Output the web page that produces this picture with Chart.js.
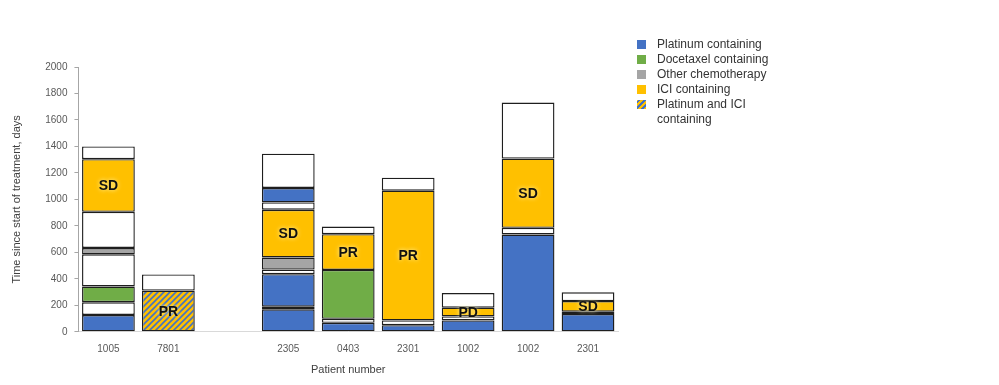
<!DOCTYPE html>
<html>
<head>
<meta charset="utf-8">
<script src="https://cdn.jsdelivr.net/npm/chart.js@4.4.1/dist/chart.umd.min.js"></script>
<style>
  body { margin: 0; background: #fff; }
  #wrap { position: relative; width: 999px; height: 385px; }
  #legend { position: absolute; left: 637px; top: 37px; font-family: "Liberation Sans", Arial, sans-serif; font-size: 12px; color: #333; }
  #legend div { position: relative; padding-left: 20px; line-height: 15px; width: 118px; }
  #legend span { position: absolute; left: 0; top: 3px; width: 9px; height: 9px; }
</style>
</head>
<body>
<div id="wrap">
  <canvas id="myChart" width="999" height="385"></canvas>
  <div id="legend"></div>
</div>
<script>
// patients on the x axis (third slot is empty in the original)
const patients = ['1005', '7801', '', '2305', '0403', '2301', '1002', '1002', '2301'];
// response shown on the ICI segment of each bar
const responses = ['SD', 'PR', '', 'SD', 'PR', 'PR', 'PD', 'SD', 'SD'];
// y axis ticks
const yTicks = [0, 200, 400, 600, 800, 1000, 1200, 1400, 1600, 1800, 2000];

// segment tops (days), bottom to top, and kind of each segment
// P = platinum, D = docetaxel, O = other chemo, I = ICI, PI = platinum + ICI, - = no treatment
const tops1005 = [127, 223, 342, 585, 633, 906, 1304, 1400];
const kinds1005 = ['P', '-', 'D', '-', 'O', '-', 'I', '-'];
const tops7801 = [311, 433];
const kinds7801 = ['PI', '-'];
const tops2305 = [170, 190, 435, 470, 561, 922, 977, 1086, 1345];
const kinds2305 = ['P', 'O', 'P', '-', 'O', 'I', '-', 'P', '-'];
const tops0403 = [68, 98, 467, 737, 795];
const kinds0403 = ['P', '-', 'D', 'I', '-'];
const tops2301a = [50, 86, 1066, 1164];
const kinds2301a = ['P', '-', 'I', '-'];
const tops1002a = [86, 116, 182, 293];
const kinds1002a = ['P', '-', 'I', '-'];
const tops1002b = [735, 785, 1308, 1732];
const kinds1002b = ['P', '-', 'I', '-'];
const tops2301b = [134, 152, 232, 298];
const kinds2301b = ['P', '-', 'I', '-'];

const legendNames = ['Platinum containing', 'Docetaxel containing', 'Other chemotherapy', 'ICI containing', 'Platinum and ICI containing'];
const legendKinds = ['P', 'D', 'O', 'I', 'PI'];

const allTops = [tops1005, tops7801, [], tops2305, tops0403, tops2301a, tops1002a, tops1002b, tops2301b];
const allKinds = [kinds1005, kinds7801, [], kinds2305, kinds0403, kinds2301a, kinds1002a, kinds1002b, kinds2301b];

// striped fill for platinum + ICI
function stripes() {
    const c = document.createElement('canvas');
    c.width = 6; c.height = 6;
    const x = c.getContext('2d');
    x.fillStyle = '#FFC000';
    x.fillRect(0, 0, 6, 6);
    x.strokeStyle = '#4472C4';
    x.lineWidth = 1.6;
    x.beginPath();
    x.moveTo(-1, 7); x.lineTo(7, -1);
    x.moveTo(-4, 4); x.lineTo(4, -4);
    x.moveTo(2, 10); x.lineTo(10, 2);
    x.stroke();
    return document.getElementById('myChart').getContext('2d').createPattern(c, 'repeat');
}

const colors = { 'P': '#4472C4', 'D': '#70AD47', 'O': '#A5A5A5', 'I': '#FFC000', 'PI': stripes(), '-': '#FFFFFF' };

const maxLayers = Math.max(...allTops.map(t => t.length));
const datasets = [];
for (let i = 0; i < maxLayers; i++) {
    datasets.push({
        label: 'layer' + i,
        data: allTops.map(t => i < t.length ? t[i] - (i > 0 ? t[i - 1] : 0) : null),
        backgroundColor: allKinds.map(k => i < k.length ? colors[k[i]] : '#fff'),
        borderColor: '#1e1e1e',
        borderWidth: 1.4,
        borderSkipped: false,
        barPercentage: 0.88,
        categoryPercentage: 1
    });
}

// response labels on the ICI segment
const responseLabels = {
    id: 'responseLabels',
    afterDatasetsDraw(chart) {
        const ctx = chart.ctx;
        ctx.save();
        ctx.font = 'bold 14px "Liberation Sans", Arial, sans-serif';
        ctx.textAlign = 'center';
        ctx.textBaseline = 'middle';
        ctx.fillStyle = '#111';
        ctx.shadowColor = 'rgba(255,250,190,0.95)';
        ctx.shadowBlur = 4;
        responses.forEach((r, j) => {
            if (!r) return;
            const i = allKinds[j].findIndex(k => k === 'I' || k === 'PI');
            const el = chart.getDatasetMeta(i).data[j];
            ctx.fillText(r, el.x, (el.y + el.base) / 2 + 1);
        });
        ctx.restore();
    }
};

const ctx = document.getElementById('myChart');
new Chart(ctx, {
    type: 'bar',
    data: { labels: patients, datasets: datasets },
    options: {
        responsive: false,
        animation: false,
        layout: { padding: { left: 4, right: 381, top: 67, bottom: 4 } },
        plugins: { legend: { display: false }, tooltip: { enabled: false } },
        scales: {
            x: {
                stacked: true,
                grid: { display: false },
                border: { color: '#d9d9d9' },
                ticks: { color: '#595959', font: { size: 10, family: '"Liberation Sans", Arial' }, padding: 3 },
                title: { display: true, text: 'Patient number', color: '#404040', font: { size: 11, family: '"Liberation Sans", Arial' }, padding: { top: 6 } }
            },
            y: {
                stacked: true,
                min: 0,
                max: 2000,
                afterBuildTicks: axis => { axis.ticks = yTicks.map(v => ({ value: v })); },
                grid: { drawOnChartArea: false, tickLength: 4, color: '#a6a6a6' },
                border: { color: '#a6a6a6' },
                ticks: { color: '#595959', font: { size: 10, family: '"Liberation Sans", Arial' }, padding: 7, callback: v => String(v) },
                title: { display: true, text: 'Time since start of treatment, days', color: '#404040', font: { size: 11, family: '"Liberation Sans", Arial' }, padding: { top: 6, bottom: 15 } }
            }
        }
    },
    plugins: [responseLabels]
});

// html legend
const legend = document.getElementById('legend');
legendNames.forEach((name, i) => {
    const row = document.createElement('div');
    const box = document.createElement('span');
    if (legendKinds[i] === 'PI') {
        box.style.background = 'repeating-linear-gradient(-45deg, #FFC000 0 2px, #4472C4 2px 4px)';
    } else {
        box.style.background = colors[legendKinds[i]];
    }
    row.appendChild(box);
    row.appendChild(document.createTextNode(name));
    legend.appendChild(row);
});
</script>
</body>
</html>
